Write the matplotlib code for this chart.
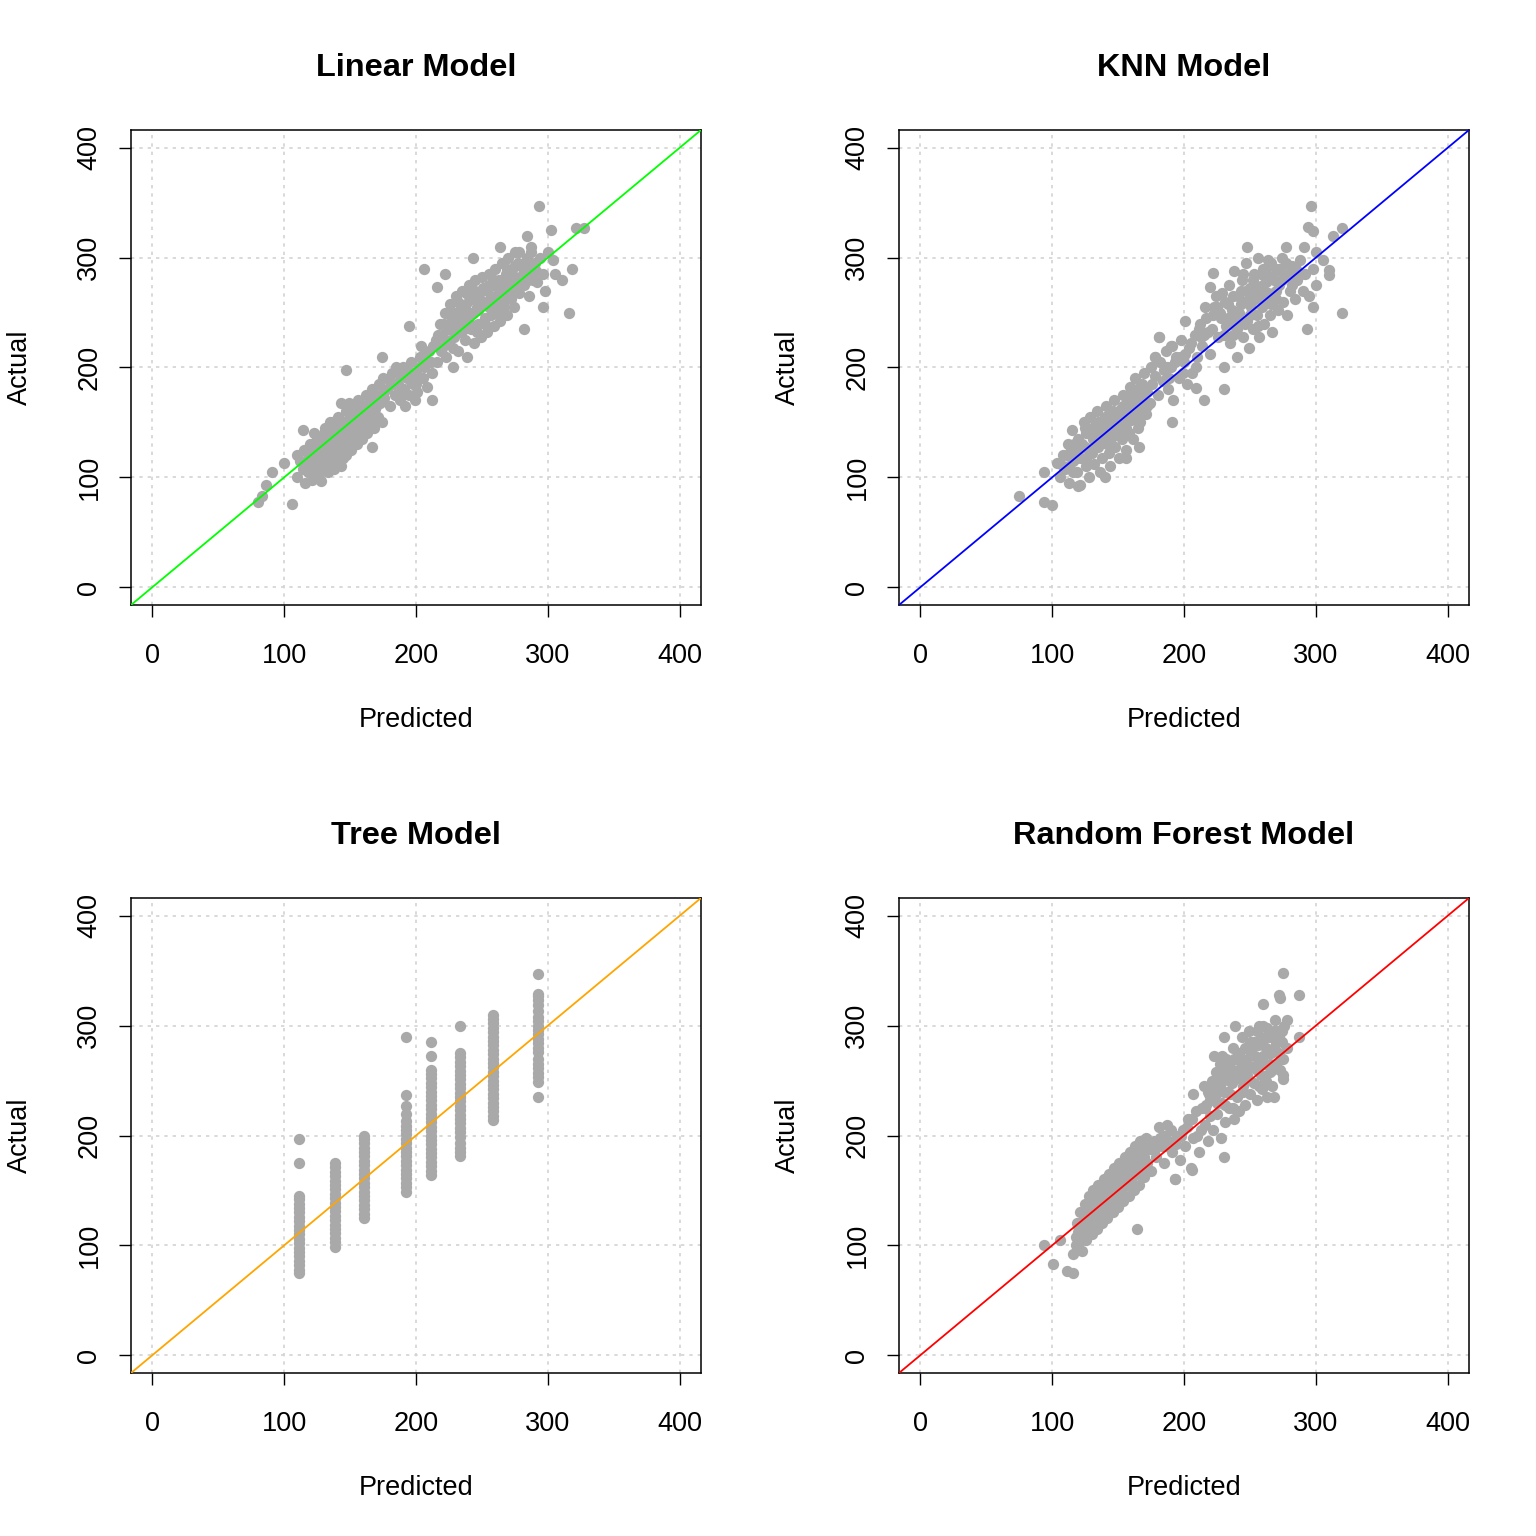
import matplotlib
matplotlib.use('Agg')
import matplotlib.pyplot as plt

plt.rcParams['font.family'] = ['Liberation Sans', 'DejaVu Sans']

# ---- Linear model: predicted / actual ----
lin_pred = [110, 112, 114, 115, 116, 118, 118, 120, 120, 121,
            122, 123, 124, 125, 126, 127, 128, 128, 129, 130,
            131, 132, 133, 134, 135, 135, 136, 137, 138, 139,
            140, 141, 142, 142, 143, 144, 145, 146, 147, 147,
            148, 149, 150, 151, 152, 152, 153, 154, 155, 156,
            157, 158, 159, 160, 161, 162, 163, 164, 165, 166,
            167, 168, 169, 170, 171, 172, 173, 174, 175, 176,
            130, 125, 135, 145, 155, 160, 150, 140, 120, 165,
            178, 180, 182, 184, 186, 188, 190, 191, 193, 195,
            196, 198, 200, 201, 203, 205, 206, 208, 210, 212,
            185, 192, 199, 204, 209, 188, 180, 196,
            215, 216, 218, 219, 220, 222, 223, 224, 225, 226,
            227, 228, 229, 230, 231, 232, 233, 234, 235, 236,
            237, 238, 239, 240, 241, 242, 243, 244, 245, 246,
            247, 248, 249, 250, 251, 252, 253, 254, 255, 256,
            257, 258, 259, 260, 261, 262, 263, 264, 265, 266,
            267, 268, 269, 270, 271, 272, 273, 274, 275, 276,
            278, 280, 282, 284, 286, 288, 290, 292, 294, 296,
            298, 300, 240, 250, 230, 260, 270, 235, 245, 255,
            265, 225, 220, 275, 285,
            293, 321, 327, 302, 284, 264, 287, 278, 243, 206,
            222, 216, 304, 318, 311, 305, 316, 296, 282, 195,
            174, 147, 212, 167, 106, 86, 80, 83, 91, 114,
            143, 100, 110]
lin_act = [100, 115, 108, 125, 95, 118, 105, 130, 112, 98,
           122, 140, 110, 102, 128, 118, 135, 97, 125, 112,
           145, 130, 105, 120, 150, 138, 115, 128, 108, 142,
           125, 155, 133, 118, 110, 145, 128, 138, 160, 120,
           150, 132, 142, 125, 165, 155, 138, 148, 130, 170,
           158, 145, 135, 165, 150, 175, 140, 158, 168, 150,
           180, 145, 162, 175, 155, 185, 168, 150, 190, 172,
           140, 135, 125, 150, 160, 145, 135, 140, 120, 160,
           180, 165, 195, 175, 185, 170, 200, 180, 190, 175,
           205, 185, 195, 178, 210, 190, 200, 182, 215, 195,
           200, 165, 170, 220, 205, 192, 188, 188,
           225, 205, 240, 215, 230, 250, 210, 235, 222, 258,
           245, 200, 228, 265, 240, 215, 252, 232, 270, 245,
           225, 258, 210, 275, 250, 235, 262, 222, 280, 255,
           240, 268, 228, 282, 260, 245, 272, 232, 285, 262,
           248, 275, 238, 290, 265, 250, 280, 242, 295, 270,
           255, 285, 248, 300, 275, 262, 290, 255, 305, 280,
           268, 292, 275, 300, 265, 285, 295, 278, 300, 285,
           270, 305, 265, 270, 250, 275, 285, 255, 262, 255,
           280, 240, 218, 292, 280,
           347, 327, 327, 325, 320, 310, 310, 305, 300, 290,
           285, 273, 298, 290, 280, 285, 250, 255, 235, 238,
           210, 198, 170, 128, 76, 93, 78, 83, 105, 143,
           168, 113, 120]
# denser core of the linear cloud
lin_pred_core = [117, 119, 122, 124, 126, 128, 130, 132, 134, 136,
                 138, 140, 142, 144, 146, 148, 150, 152, 154, 156,
                 158, 160, 162, 164, 166, 168, 170, 172, 127, 133,
                 139, 145, 151, 157, 163, 169, 175, 121, 137, 149,
                 183, 187, 194, 197, 202, 207, 211, 189, 200, 213,
                 217, 221, 223, 227, 229, 232, 234, 236, 238, 241,
                 243, 245, 247, 249, 251, 253, 255, 257, 259, 261,
                 263, 265, 267, 269, 271, 273, 275, 277, 279, 281,
                 283, 285, 287, 289, 291, 228, 246, 258, 268, 252]
lin_act_core = [112, 125, 115, 130, 120, 112, 128, 138, 128, 140,
                132, 148, 140, 130, 150, 142, 155, 145, 160, 150,
                162, 155, 160, 172, 165, 175, 165, 170, 105, 115,
                118, 118, 140, 138, 148, 152, 178, 108, 150, 168,
                185, 195, 198, 195, 200, 212, 205, 178, 185, 220,
                230, 240, 225, 235, 250, 260, 245, 235, 268, 240,
                250, 270, 252, 260, 272, 258, 275, 265, 280, 255,
                268, 262, 278, 290, 285, 270, 282, 295, 275, 285,
                290, 295, 305, 280, 288, 218, 232, 250, 262, 240]

# ---- KNN model ----
knn_pred = [104, 106, 108, 110, 112, 113, 115, 116, 118, 119,
            120, 121, 122, 124, 125, 126, 127, 128, 129, 130,
            131, 132, 133, 134, 135, 136, 137, 138, 139, 140,
            141, 142, 143, 144, 145, 146, 147, 148, 149, 150,
            151, 152, 153, 154, 155, 156, 157, 158, 159, 160,
            161, 162, 163, 164, 165, 166, 167, 168, 169, 170,
            171, 172, 174, 175, 176, 125, 135, 145, 155, 120,
            178, 180, 182, 184, 186, 188, 190, 192, 194, 196,
            198, 200, 202, 204, 206, 208, 210, 181, 178, 191,
            212, 214, 216, 218, 220, 222, 224, 226, 228, 230,
            231, 232, 234, 235, 236, 238, 239, 240, 241, 242,
            244, 245, 246, 247, 248, 249, 250, 251, 252, 253,
            254, 255, 256, 257, 258, 259, 260, 261, 262, 263,
            264, 265, 266, 267, 268, 270, 271, 272, 274, 275,
            276, 278, 280, 282, 284, 286, 288, 290, 292, 295,
            298, 300, 225, 233, 243, 253, 263, 273, 215, 237,
            296, 294, 298, 313, 320, 291, 248, 277, 300, 305,
            310, 310, 298, 320, 293, 222, 220, 181, 178, 191,
            215, 75, 94, 100, 94, 120, 140, 166, 156, 230,
            209, 201, 190]
knn_act = [113, 100, 120, 108, 130, 95, 143, 115, 125, 105,
           135, 93, 118, 150, 128, 110, 140, 100, 155, 122,
           135, 112, 148, 160, 128, 105, 140, 118, 152, 132,
           165, 145, 122, 110, 158, 138, 170, 128, 150, 142,
           118, 162, 135, 175, 148, 125, 160, 140, 182, 152,
           135, 170, 190, 158, 145, 175, 150, 185, 165, 195,
           158, 178, 168, 200, 185, 145, 150, 130, 165, 125,
           192, 175, 205, 188, 215, 180, 200, 170, 210, 190,
           225, 205, 185, 218, 195, 230, 210, 228, 210, 220,
           240, 220, 255, 232, 212, 248, 265, 228, 245, 200,
           260, 238, 275, 222, 252, 288, 240, 210, 265, 250,
           280, 228, 260, 295, 242, 218, 272, 255, 235, 285,
           262, 248, 300, 228, 270, 255, 290, 240, 278, 262,
           298, 248, 282, 232, 268, 290, 252, 275, 300, 260,
           285, 248, 270, 292, 262, 280, 298, 270, 285, 265,
           290, 275, 255, 245, 270, 265, 280, 288, 230, 230,
           347, 328, 324, 320, 327, 310, 310, 310, 305, 298,
           289, 284, 255, 250, 235, 286, 273, 228, 210, 150,
           170, 83, 78, 75, 105, 92, 100, 128, 118, 180,
           181, 242, 220]
knn_pred_core = [108, 111, 114, 117, 119, 123, 126, 128, 130, 132,
                 134, 136, 138, 140, 142, 144, 146, 148, 150, 152,
                 154, 156, 158, 160, 162, 164, 166, 168, 170, 172,
                 116, 126, 136, 146, 156, 166, 113, 143, 153, 163,
                 185, 189, 193, 197, 201, 205, 209, 187, 199, 211,
                 213, 217, 221, 223, 227, 229, 233, 237, 240, 243,
                 245, 247, 250, 252, 254, 256, 258, 260, 262, 264,
                 266, 268, 270, 272, 274, 277, 279, 282, 285, 289,
                 230, 240, 250, 260, 270, 280, 246, 256, 236, 266]
knn_act_core = [110, 120, 125, 130, 118, 130, 140, 125, 145, 138,
                130, 150, 142, 155, 130, 150, 160, 148, 155, 140,
                165, 160, 170, 175, 158, 180, 168, 172, 180, 165,
                105, 118, 130, 145, 145, 160, 110, 140, 152, 165,
                198, 190, 205, 210, 212, 222, 200, 200, 195, 235,
                228, 245, 235, 255, 250, 268, 258, 265, 245, 258,
                285, 270, 262, 280, 275, 265, 285, 275, 290, 268,
                295, 280, 270, 290, 280, 295, 285, 275, 290, 285,
                230, 235, 248, 262, 262, 282, 240, 238, 240, 258]

# ---- Tree model: discrete predictions ----
tree_levels = [111.6, 138.9, 160.8, 192.4, 211.4, 233.3, 258.6, 292.2]
tree_act = [
    [75, 78, 82, 86, 90, 94, 98, 102, 106, 110, 114, 118, 122, 126, 130,
     134, 138, 142, 145, 175, 197],
    [99, 103, 107, 111, 115, 119, 123, 127, 131, 135, 139, 143, 147, 151,
     155, 159, 163, 167, 171, 175],
    [125, 129, 133, 137, 141, 145, 149, 153, 157, 161, 165, 169, 173, 177,
     181, 185, 189, 193, 197, 200],
    [149, 153, 157, 161, 165, 169, 173, 177, 181, 185, 189, 193, 197, 201,
     205, 209, 213, 220, 227, 237, 290],
    [164, 168, 172, 176, 180, 184, 188, 192, 196, 200, 204, 208, 212, 216,
     220, 224, 228, 232, 236, 240, 244, 248, 252, 256, 260, 272, 285],
    [181, 185, 189, 193, 199, 203, 207, 211, 215, 219, 223, 227, 231, 235,
     239, 243, 247, 251, 255, 259, 263, 267, 271, 275, 300],
    [214, 218, 222, 226, 230, 234, 238, 242, 246, 250, 254, 258, 262, 266,
     270, 274, 278, 282, 286, 290, 294, 298, 302, 306, 310],
    [235, 249, 253, 257, 261, 265, 270, 276, 280, 284, 288, 292, 296, 300,
     304, 308, 313, 319, 323, 327, 329, 347],
]

# ---- Random forest model ----
rf_pred = [116, 118, 119, 120, 121, 122, 123, 124, 125, 126,
           127, 128, 129, 130, 131, 132, 133, 134, 135, 136,
           137, 138, 139, 140, 141, 142, 143, 144, 145, 146,
           147, 148, 149, 150, 151, 152, 153, 154, 155, 156,
           157, 158, 159, 160, 161, 162, 163, 164, 165, 166,
           167, 168, 169, 170, 171, 172, 174, 175, 130, 140,
           150, 145, 135, 155, 160, 125, 120, 165, 138, 148,
           177, 179, 181, 183, 185, 187, 189, 191, 193, 195,
           197, 199, 201, 203, 205, 207, 209, 211, 213, 185,
           215, 216, 217, 218, 219, 220, 221, 222, 223, 224,
           225, 226, 227, 228, 229, 230, 231, 232, 233, 234,
           235, 236, 237, 238, 239, 240, 241, 242, 243, 244,
           245, 246, 247, 248, 249, 250, 251, 252, 253, 254,
           255, 256, 257, 258, 259, 260, 261, 262, 263, 264,
           265, 266, 267, 268, 269, 270, 271, 272, 273, 274,
           275, 276, 278, 230, 240, 250, 245, 235, 255, 260,
           275, 272, 273, 287, 260, 239, 230, 223, 229, 207,
           275, 275, 287, 278, 94, 106, 101, 111, 116, 164,
           193, 206, 230, 263, 268]
rf_act = [92, 108, 120, 100, 130, 112, 95, 125, 138, 105,
          118, 145, 130, 110, 150, 122, 138, 115, 155, 128,
          142, 120, 160, 135, 148, 125, 165, 140, 152, 130,
          170, 145, 158, 135, 175, 150, 162, 140, 180, 155,
          168, 145, 185, 160, 172, 150, 190, 165, 178, 155,
          195, 170, 182, 162, 198, 175, 188, 168, 125, 150,
          165, 135, 140, 170, 175, 115, 112, 185, 132, 155,
          195, 180, 208, 190, 175, 210, 195, 185, 160, 200,
          178, 205, 190, 215, 170, 198, 222, 185, 205, 200,
          245, 210, 228, 195, 238, 218, 250, 205, 232, 258,
          220, 242, 265, 198, 230, 252, 212, 270, 240, 225,
          262, 248, 280, 215, 255, 235, 272, 222, 262, 290,
          245, 228, 268, 255, 295, 238, 278, 262, 248, 285,
          232, 270, 300, 255, 242, 288, 265, 250, 298, 275,
          258, 290, 245, 280, 305, 265, 295, 275, 260, 285,
          270, 300, 280, 260, 270, 285, 258, 238, 295, 300,
          348, 328, 325, 328, 320, 300, 290, 272, 272, 238,
          255, 251, 290, 305, 100, 105, 83, 77, 75, 115,
          160, 169, 180, 235, 235]
rf_pred_core = [118, 120, 122, 124, 126, 128, 130, 132, 134, 136,
                138, 140, 142, 144, 146, 148, 150, 152, 154, 156,
                158, 160, 162, 164, 166, 168, 170, 172, 127, 133,
                139, 145, 151, 157, 163, 169, 141, 147, 153, 159,
                178, 182, 186, 190, 194, 198, 202, 206, 210, 214,
                216, 218, 220, 222, 224, 226, 228, 230, 232, 234,
                236, 238, 240, 242, 244, 246, 248, 250, 252, 254,
                256, 258, 260, 262, 264, 266, 268, 270, 272, 274,
                225, 235, 245, 255, 265, 237, 247, 257, 267, 231]
rf_act_core = [100, 118, 105, 115, 128, 120, 138, 130, 145, 138,
               150, 142, 155, 148, 162, 160, 150, 170, 158, 172,
               165, 180, 175, 185, 175, 188, 180, 190, 132, 125,
               140, 145, 158, 160, 170, 175, 130, 138, 148, 155,
               188, 198, 190, 205, 192, 200, 208, 215, 200, 225,
               225, 240, 232, 245, 238, 255, 248, 240, 255, 265,
               258, 270, 252, 275, 265, 280, 270, 262, 285, 272,
               282, 290, 272, 280, 290, 275, 295, 285, 290, 295,
               230, 250, 240, 260, 265, 225, 250, 245, 260, 228]

titles = ['Linear Model', 'KNN Model', 'Tree Model', 'Random Forest Model']
line_colors = ['#00FF00', '#0000FF', '#FFA500', '#FF0000']

tree_pred = []
tree_act_flat = []
for lvl, vals in zip(tree_levels, tree_act):
    tree_pred += [lvl] * len(vals)
    tree_act_flat += vals

series = [(lin_pred + lin_pred_core, lin_act + lin_act_core),
          (knn_pred + knn_pred_core, knn_act + knn_act_core),
          (tree_pred, tree_act_flat),
          (rf_pred + rf_pred_core, rf_act + rf_act_core)]

W = 1536.0
fig = plt.figure(figsize=(15.36, 15.36), dpi=100)

# pixel layout of the R device
lefts = [131, 899]
tops = [130, 898]
pw, ph = 570, 475
ticks = [0, 100, 200, 300, 400]

for i, (title, col, (px, py)) in enumerate(zip(titles, line_colors, series)):
    l = lefts[i % 2]
    t = tops[i // 2]
    ax = fig.add_axes([l / W, 1 - (t + ph) / W, pw / W, ph / W])
    ax.set_xlim(-16, 416)
    ax.set_ylim(-16, 416)
    for v in ticks:
        ax.axvline(v, color='#D3D3D3', lw=1.2, ls=(0, (2, 3)), zorder=1)
        ax.axhline(v, color='#D3D3D3', lw=1.2, ls=(0, (2, 3)), zorder=1)
    ax.scatter(px, py, s=66, color='#A9A9A9', linewidths=0, zorder=2)
    ax.plot([-16, 416], [-16, 416], color=col, lw=1.3, zorder=3)
    ax.set_xticks(ticks)
    ax.set_yticks(ticks)
    ax.tick_params(direction='out', length=8.6, width=1, labelsize=19.5,
                   color='black')
    ax.tick_params(axis='x', pad=19)
    ax.tick_params(axis='y', pad=12)
    plt.setp(ax.get_yticklabels(), rotation=90, va='center')
    for s in ax.spines.values():
        s.set_linewidth(1.1)

    cx = (l + pw / 2) / W
    fig.text(cx, 1 - (t - 62) / W, title, ha='center', va='center',
             fontsize=23.4, fontweight='bold')
    fig.text(cx, 1 - (t + 590) / W, 'Predicted', ha='center', va='center',
             fontsize=19.5)
    fig.text((l - 111) / W, 1 - (t + 237) / W, 'Actual', ha='center',
             va='center', rotation=90, fontsize=19.5)

fig.savefig('out.png', dpi=100)
